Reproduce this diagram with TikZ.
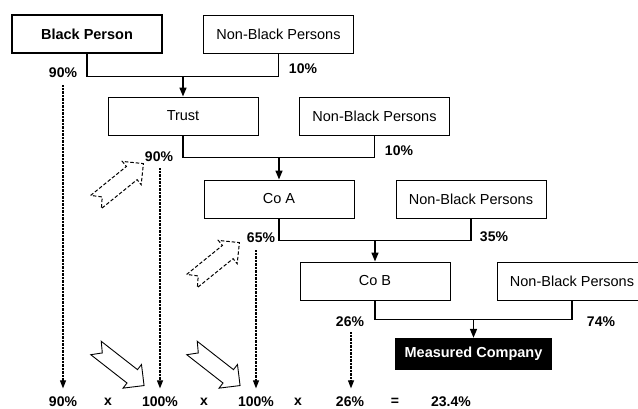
\documentclass[tikz,border=0pt]{standalone}
\usepackage{fontspec}
\setmainfont{Liberation Sans}
\usetikzlibrary{arrows.meta}
\tikzset{
  every node/.style={font=\fontsize{14.5}{17}\selectfont},
  box/.style={draw, line width=1pt, minimum width=150pt, minimum height=38pt, inner sep=0pt},
  nbbox/.style={draw, line width=0.8pt, minimum width=150pt, minimum height=38pt, inner sep=0pt},
  lab/.style={font=\fontsize{14}{16}\selectfont\bfseries, inner sep=0pt},
  conn/.style={line width=1.6pt},
  connarrow/.style={line width=1.6pt, -{Triangle[width=7pt,length=9pt]}},
  dotarrow/.style={line width=1.1pt, dash pattern=on 0.7pt off 0.7pt, shorten >=8pt, -{Triangle[width=6pt,length=8pt]}},
  hollowsolid/.style={line width=0.9pt, fill=white, line join=miter},
  hollowdash/.style={line width=1pt, fill=white, dash pattern=on 3.5pt off 2pt}
}
\newcommand{\blockarr}[4]{%
  \begin{scope}[shift={(#1,#2)}, rotate=#3]
    \draw[#4] (0pt,8.5pt) -- (46pt,8.5pt) -- (46pt,15pt) -- (61pt,0pt) -- (46pt,-15pt)
      -- (46pt,-8.5pt) -- (0pt,-8.5pt) -- (8pt,0pt) -- cycle;
  \end{scope}}
\begin{document}
\begin{tikzpicture}[x=1pt, y=-1pt]
\useasboundingbox (0,0) rectangle (638,408);
\clip (0,0) rectangle (638,408);

% boxes
\node[box, line width=1.2pt, font=\fontsize{14.5}{17}\selectfont\bfseries] (bp) at (87,34) {Black Person};
\node[nbbox] (nb1) at (278.5,34) {Non-Black Persons};
\node[box] (trust) at (183,116) {Trust};
\node[nbbox] (nb2) at (374.5,116.5) {Non-Black Persons};
\node[box] (coa) at (279,199) {Co A};
\node[nbbox] (nb3) at (471,199.5) {Non-Black Persons};
\node[box] (cob) at (375,281) {Co B};
\node[nbbox] (nb4) at (572,281) {Non-Black Persons};
\node[fill=black, text=white, minimum width=157pt, minimum height=32pt, inner sep=0pt,
      font=\fontsize{14.5}{17}\selectfont\bfseries] (mc) at (473.5,354) {Measured Company};

% connectors
\path (bp.south) ++(0,23) coordinate (j1);
\draw[conn] (bp.south) -- (j1) -| (nb1.south);
\draw[connarrow] (j1 -| trust.north) -- (trust.north);

\path (trust.south) ++(0,22) coordinate (j2);
\draw[conn] (trust.south) -- (j2) -| (nb2.south);
\draw[connarrow] (j2 -| coa.north) -- (coa.north);

\path (coa.south) ++(0,22) coordinate (j3);
\draw[conn] (coa.south) -- (j3) -| (nb3.south);
\draw[connarrow] (j3 -| cob.north) -- (cob.north);

\path (cob.south) ++(0,19) coordinate (j4);
\draw[conn] (cob.south) -- (j4) -| (nb4.south);
\draw[connarrow] (j4 -| mc.north) -- (mc.north);

% percentage labels
\node[lab] (p90a) at (63,73) {90\%};
\node[lab] (p10a) at (303,69) {10\%};
\node[lab] (p90b) at (159,157) {90\%};
\node[lab] (p10b) at (399,151) {10\%};
\node[lab] (p65) at (261,238) {65\%};
\node[lab] (p35) at (494,237) {35\%};
\node[lab] (p26) at (350,322) {26\%};
\node[lab] (p74) at (601,322) {74\%};

% bottom row
\node[lab] (b90) at (63,401.5) {90\%};
\node[lab] (bx1) at (108,401.5) {x};
\node[lab] (b100a) at (160,401.5) {100\%};
\node[lab] (bx2) at (204,401.5) {x};
\node[lab] (b100b) at (256,401.5) {100\%};
\node[lab] (bx3) at (298,401.5) {x};
\node[lab] (b26) at (350,401.5) {26\%};
\node[lab] (beq) at (395,401.5) {=};
\node[lab] (bres) at (451,401.5) {23.4\%};

% dotted arrows
\coordinate (d1) at (63,85);
\coordinate (d2) at (160,168);
\coordinate (d3) at (256,250);
\coordinate (d4) at (351,332);
\draw[dotarrow] (d1) -- (d1 |- b90.north);
\draw[dotarrow] (d2) -- (d2 |- b100a.north);
\draw[dotarrow] (d3) -- (d3 |- b100b.north);
\draw[dotarrow] (d4) -- (d4 |- b26.north);

% block arrows
\blockarr{96}{202}{39}{hollowdash}
\blockarr{192}{281}{39}{hollowdash}
\blockarr{96}{348}{-38}{hollowsolid}
\blockarr{192}{348}{-38}{hollowsolid}
\end{tikzpicture}
\end{document}
